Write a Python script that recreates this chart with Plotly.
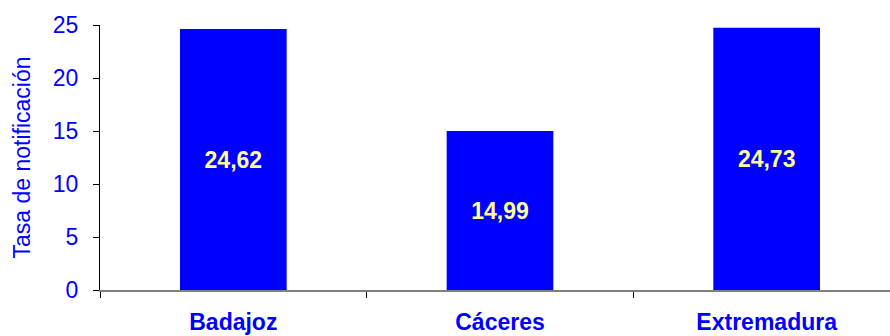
import plotly.graph_objects as go

categories = ["Badajoz", "Cáceres", "Extremadura"]
values = [24.62, 14.99, 24.73]
labels = [f"{v:.2f}".replace(".", ",") for v in values]

fig = go.Figure(go.Bar(
    x=categories, y=values, text=labels,
    textposition="inside", insidetextanchor="middle",
    textfont=dict(family="Liberation Sans, Arial", size=23, color="#FFFF99", weight="bold"),
    marker=dict(color="#0000FF", line=dict(width=0)),
    textangle=0, cliponaxis=False,
))

fig.update_layout(
    width=890, height=336,
    margin=dict(l=100, r=0, t=25, b=46),
    paper_bgcolor="white", plot_bgcolor="white",
    bargap=0.6, showlegend=False,
    font=dict(family="Liberation Sans, Arial", color="#0000FF"),
)
fig.update_xaxes(
    type="category", range=[-0.5, 2.4625], automargin=False,
    showline=True, linecolor="#808080", linewidth=1.5,
    ticks="outside", tickson="boundaries", ticklen=6, tickcolor="#000000",
    tickfont=dict(size=23, color="#0000FF", weight="bold"),
    ticklabelstandoff=11, showgrid=False, zeroline=False,
)
fig.update_yaxes(
    range=[0, 25], tickvals=[0, 5, 10, 15, 20, 25], automargin=False,
    showline=True, linecolor="#000000", linewidth=1,
    ticks="outside", ticklen=6, tickcolor="#000000",
    tickfont=dict(size=23, color="#0000FF"),
    ticklabelstandoff=10,
    title=dict(text="Tasa de notificación", font=dict(size=23, color="#0000FF"), standoff=15),
    showgrid=False, zeroline=False,
)

fig.write_html("out.html")
